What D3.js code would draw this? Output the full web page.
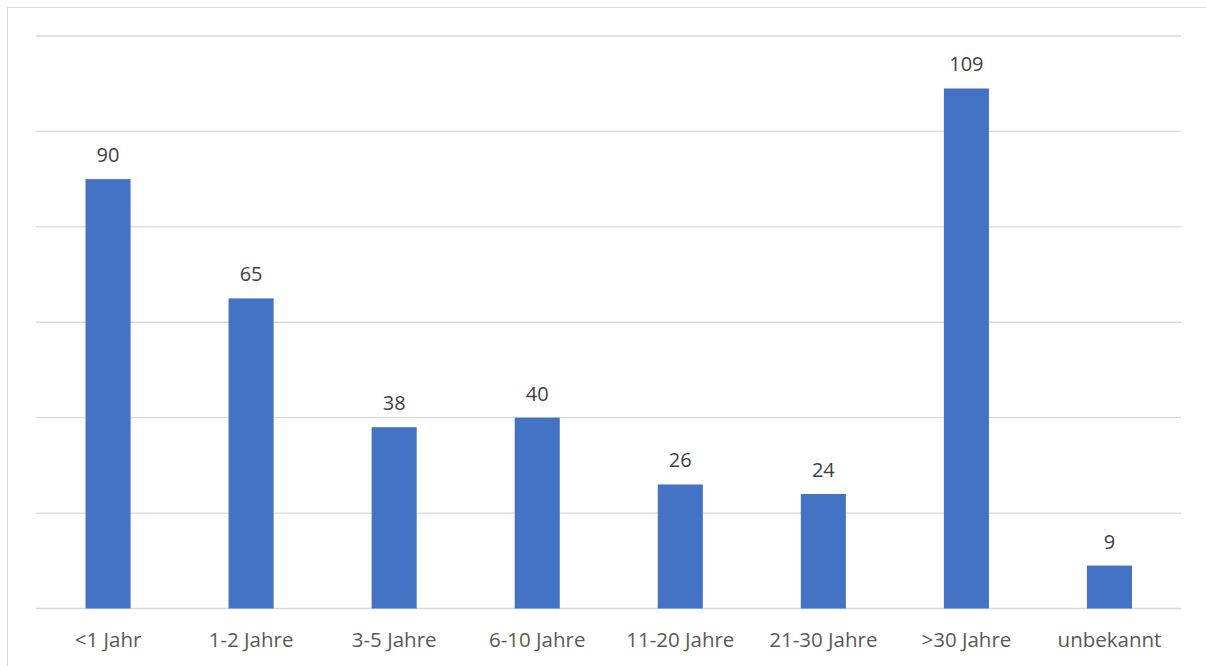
<!DOCTYPE html>
<html><head><meta charset="utf-8">
<script src="https://cdn.jsdelivr.net/npm/d3@7"></script>
<style>body{margin:0;background:#fff}svg{display:block}</style>
</head><body>
<script>
const categories = ["<1 Jahr","1-2 Jahre","3-5 Jahre","6-10 Jahre","11-20 Jahre","21-30 Jahre",">30 Jahre","unbekannt"];
const values = [90,65,38,40,26,24,109,9];
const yTicks = [0,20,40,60,80,100,120];

const W=1206,H=666;
const svg=d3.select("body").append("svg").attr("width",W).attr("height",H);
svg.append("rect").attr("x",7.5).attr("y",7.5).attr("width",W+10).attr("height",H+10)
  .attr("fill","#fff").attr("stroke","#d9d9d9").attr("stroke-width",1);

const x=d3.scaleBand().domain(categories).range([36.5,1181]).paddingInner(0.685).paddingOuter(0.3425);
const y=d3.scaleLinear().domain([0,120]).range([608.5,36]);

svg.append("g").selectAll("line").data(yTicks).join("line")
  .attr("x1",36).attr("x2",1181).attr("y1",d=>y(d)).attr("y2",d=>y(d))
  .attr("stroke","#d9d9d9").attr("stroke-width",1.3);

svg.append("g").selectAll("rect").data(values).join("rect")
  .attr("x",(d,i)=>x(categories[i])).attr("width",x.bandwidth())
  .attr("y",d=>y(d)).attr("height",d=>y(0)-y(d)).attr("fill","#4472c4");

const font="'Open Sans', sans-serif";
svg.append("g").selectAll("text").data(values).join("text")
  .attr("x",(d,i)=>x(categories[i])+x.bandwidth()/2).attr("y",d=>y(d)-17)
  .attr("text-anchor","middle").attr("font-family",font).attr("font-size",20)
  .attr("fill","#404040").text(d=>d);

const xAxis=svg.append("g").attr("transform",`translate(0,${y(0)})`)
  .call(d3.axisBottom(x).tickSize(0).tickPadding(0));
xAxis.select(".domain").remove();
xAxis.selectAll("text").attr("y",38).attr("dy",0).attr("font-family",font).attr("font-size",20.5).attr("fill","#595959");
</script>
</body></html>
